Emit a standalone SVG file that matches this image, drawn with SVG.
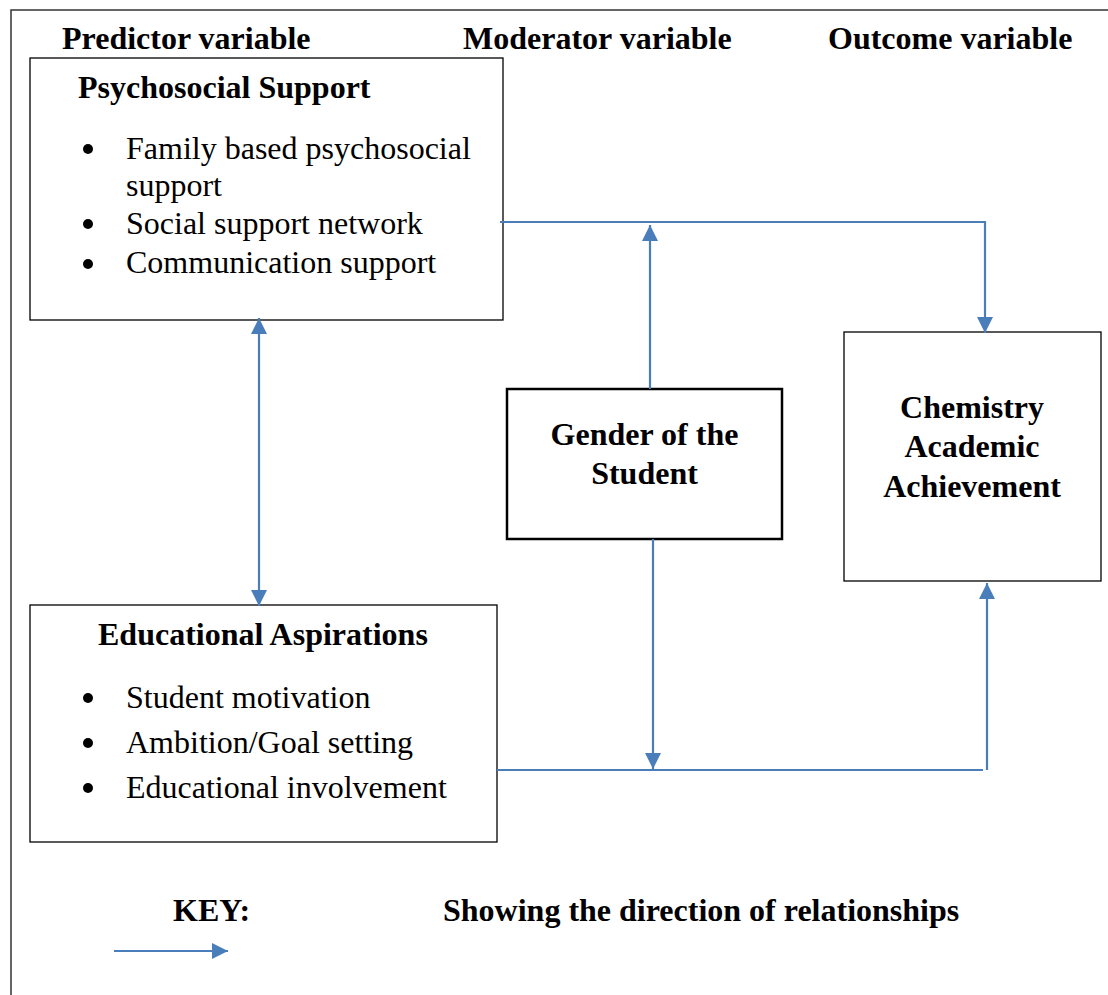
<svg xmlns="http://www.w3.org/2000/svg" width="1108" height="995" viewBox="0 0 1108 995">
<defs>
<style>
.b{font-family:"Liberation Serif","Times New Roman",serif;font-weight:bold;font-size:32px;fill:#000}
.r{font-family:"Liberation Serif","Times New Roman",serif;font-size:32px;fill:#000}
.box{fill:#fff;stroke:#000;stroke-width:1.3}
.ln{fill:none;stroke:#4a7ebb;stroke-width:2.2}
</style>
<marker id="a" viewBox="0 0 10 10" refX="10" refY="5" markerWidth="16" markerHeight="16" orient="auto-start-reverse" markerUnits="userSpaceOnUse">
<path d="M0,0 L10,5 L0,10 z" fill="#4a7ebb"/>
</marker>
</defs>
<rect width="1108" height="995" fill="#fff"/>
<path d="M11,1000 V10 H1115" fill="none" stroke="#333" stroke-width="1.5"/>
<g id="headers">
<text class="b" x="62" y="49">Predictor variable</text>
<text class="b" x="463" y="49">Moderator variable</text>
<text class="b" x="828" y="49">Outcome variable</text>
</g>
<g id="psychosocial">
<rect class="box" x="30" y="58" width="473" height="262"/>
<text class="b" x="78" y="98">Psychosocial Support</text>
<circle cx="88" cy="149" r="5"/><text class="r" x="126" y="159">Family based psychosocial</text>
<text class="r" x="126" y="196">support</text>
<circle cx="88" cy="224" r="5"/><text class="r" x="126" y="234">Social support network</text>
<circle cx="88" cy="264" r="5"/><text class="r" x="126" y="273">Communication support</text>
</g>
<g id="educational">
<rect class="box" x="30" y="605" width="467" height="237"/>
<text class="b" x="98" y="645">Educational Aspirations</text>
<circle cx="88" cy="698" r="5"/><text class="r" x="126" y="708">Student motivation</text>
<circle cx="88" cy="743" r="5"/><text class="r" x="126" y="753">Ambition/Goal setting</text>
<circle cx="88" cy="788" r="5"/><text class="r" x="126" y="798">Educational involvement</text>
</g>
<g id="gender">
<rect x="507" y="389" width="275" height="150" fill="#fff" stroke="#000" stroke-width="2.5"/>
<text class="b" x="644.5" y="445" text-anchor="middle">Gender of the</text>
<text class="b" x="644.5" y="484" text-anchor="middle">Student</text>
</g>
<g id="chemistry">
<rect class="box" x="844" y="332" width="257" height="249"/>
<text class="b" x="972" y="418" text-anchor="middle">Chemistry</text>
<text class="b" x="972" y="457" text-anchor="middle">Academic</text>
<text class="b" x="972" y="497" text-anchor="middle">Achievement</text>
</g>
<g id="connectors">
<path class="ln" d="M500,222 H985 V333" marker-end="url(#a)"/>
<path class="ln" d="M650,389 V225" marker-end="url(#a)"/>
<path class="ln" d="M259,318 V606" marker-start="url(#a)" marker-end="url(#a)"/>
<path class="ln" d="M653,539 V769" marker-end="url(#a)"/>
<path class="ln" d="M497,770 H983"/>
<path class="ln" d="M987,770 V583" marker-end="url(#a)"/>
<path class="ln" d="M114,951 H228" marker-end="url(#a)"/>
</g>
<g id="key">
<text class="b" x="173" y="921">KEY:</text>
<text class="b" x="443" y="921">Showing the direction of relationships</text>
</g>
</svg>
